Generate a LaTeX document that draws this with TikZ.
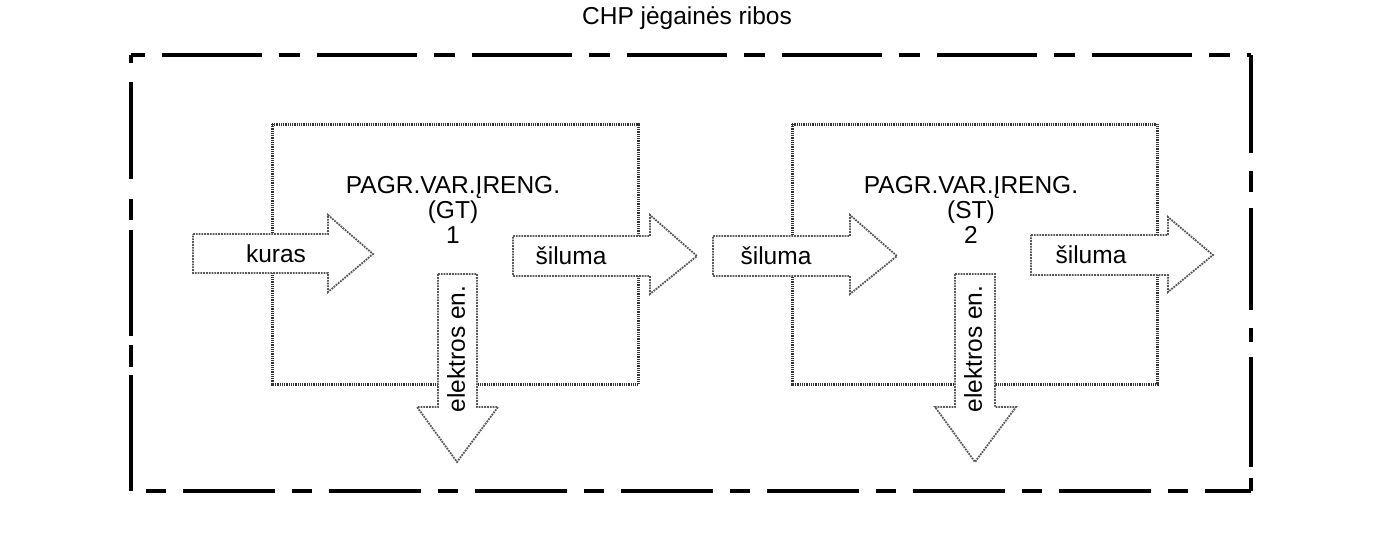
\documentclass[tikz,border=0pt]{standalone}
\usepackage{fontspec}
\setmainfont{Liberation Sans}
\begin{document}
\begin{tikzpicture}[x=1pt,y=-1pt,
  outer/.style={line width=4.5pt,black},
  unitbox/.style={line width=3pt,black!80,dash pattern=on 1pt off 0.8pt},
  flow/.style={fill=white,draw=black!65,line width=1.8pt,densely dotted,line join=miter},
  lbl/.style={font=\fontsize{24.5}{25}\selectfont,inner sep=0pt}]
\useasboundingbox (0,0) rectangle (1385,535);
% outer boundary
\coordinate (tl) at (131,55);
\coordinate (tr) at (1251,55);
\coordinate (bl) at (131,491);
\coordinate (br) at (1251,491);
\draw[outer,dash pattern=on 100pt off 17pt on 21pt off 17pt,dash phase=124pt] (tl) -- (tr);
\draw[outer,dash pattern=on 98pt off 18pt on 21pt off 16pt on 102pt off 18pt on 14pt off 15pt on 110pt off 11pt on 20pt off 10pt] (tr) -- (br);
\draw[outer,dash pattern=on 92pt off 17pt on 20pt off 17pt,dash phase=94pt] (bl) -- (br);
\draw[outer,dash pattern=on 8pt off 19pt on 97pt off 20pt on 21pt off 10pt on 106pt off 9pt on 22pt off 8pt on 130pt off 10pt] (tl) -- (bl);
\node[lbl] (title) at (687,18) {CHP jėgainės ribos};
% unit boxes
\draw[unitbox] (272,124) rectangle (638,384);
\draw[unitbox] (792,124) rectangle (1157,384);
\node[lbl,align=center] (u1) at (453,210) {PAGR.VAR.ĮRENG.\\(GT)\\1};
\node[lbl,align=center] (u2) at (971,210) {PAGR.VAR.ĮRENG.\\(ST)\\2};
% arrows
\draw[flow] (193,234) -- (328,234) -- (328,215) -- (373,254) -- (328,292) -- (328,273) -- (193,273) -- cycle;
\draw[flow] (513,236) -- (650,236) -- (650,215) -- (697,256) -- (650,294) -- (650,276) -- (513,276) -- cycle;
\draw[flow] (713,236) -- (850,236) -- (850,215) -- (897,256) -- (850,294) -- (850,276) -- (713,276) -- cycle;
\draw[flow] (1031,235) -- (1168,235) -- (1168,217) -- (1213,255) -- (1168,292) -- (1168,275) -- (1031,275) -- cycle;
\draw[flow] (438,274) -- (477,274) -- (477,407) -- (498,407) -- (457,462) -- (417,407) -- (438,407) -- cycle;
\draw[flow] (955,274) -- (995,274) -- (995,407) -- (1016,407) -- (975,462) -- (935,407) -- (955,407) -- cycle;
\node[lbl] (fuel) at (276,254) {kuras};
\node[lbl] (h1) at (571,256) {šiluma};
\node[lbl] (h2) at (776,256) {šiluma};
\node[lbl] (h3) at (1091,255) {šiluma};
\node[lbl,rotate=90] (e1) at (456,349) {elektros en.};
\node[lbl,rotate=90] (e2) at (973,349) {elektros en.};
\end{tikzpicture}
\end{document}
